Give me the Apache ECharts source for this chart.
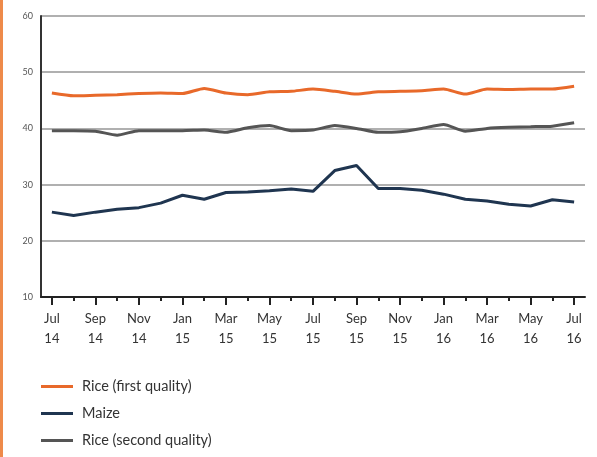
<!DOCTYPE html>
<html><head><meta charset="utf-8">
<script src="https://cdn.jsdelivr.net/npm/echarts@6/dist/echarts.min.js"></script>
<style>html,body{margin:0;padding:0;background:#fff}#c{width:597px;height:457px}</style>
</head><body><div id="c"></div>
<script>
const categories = ['Jul\n14','Aug\n14','Sep\n14','Oct\n14','Nov\n14','Dec\n14','Jan\n15','Feb\n15','Mar\n15','Apr\n15','May\n15','Jun\n15','Jul\n15','Aug\n15','Sep\n15','Oct\n15','Nov\n15','Dec\n15','Jan\n16','Feb\n16','Mar\n16','Apr\n16','May\n16','Jun\n16','Jul\n16'];
const riceFirst = [46.3,45.8,45.9,46.0,46.2,46.3,46.2,47.1,46.3,46.0,46.5,46.6,47.0,46.6,46.1,46.5,46.6,46.7,47.0,46.1,47.0,46.9,47.0,47.0,47.5];
const maize = [25.1,24.5,25.1,25.6,25.9,26.7,28.1,27.4,28.6,28.7,28.9,29.2,28.8,32.5,33.4,29.3,29.3,29.0,28.3,27.4,27.1,26.5,26.2,27.3,26.9];
const riceSecond = [39.6,39.6,39.5,38.8,39.6,39.6,39.6,39.7,39.3,40.1,40.5,39.6,39.7,40.5,40.0,39.3,39.4,40.0,40.7,39.5,40.0,40.2,40.3,40.4,41.0];
const yTicks = {min:10, max:60, interval:10};

const chart = echarts.init(document.getElementById('c'));
const font = 'Lato, "Open Sans", sans-serif';
chart.setOption({
  animation:false,
  grid:{left:41, right:12, top:16, bottom:160},
  legend:{
    orient:'vertical', left:36, top:373, itemGap:10,
    itemWidth:32, itemHeight:3, icon:'rect',
    textStyle:{fontFamily:font, fontSize:14.5, color:'#333', padding:[0,0,0,4], lineHeight:17},
    data:['Rice (first quality)','Maize','Rice (second quality)']
  },
  xAxis:[{
    type:'category', data:categories, boundaryGap:true,
    axisLine:{lineStyle:{color:'#222', width:2}},
    axisTick:{show:true, alignWithLabel:true, interval:0, length:4, lineStyle:{color:'#222', width:2}},
    axisLabel:{interval:1, fontFamily:font, fontSize:13, color:'#333', lineHeight:20, margin:12},
    splitLine:{show:false}
  },{
    type:'category', data:categories, boundaryGap:true, position:'bottom',
    axisLine:{show:false},
    axisTick:{show:true, alignWithLabel:true, interval:1, length:8, lineStyle:{color:'#222', width:2}},
    axisLabel:{show:false}, splitLine:{show:false}
  }],
  yAxis:{
    type:'value', min:yTicks.min, max:yTicks.max, interval:yTicks.interval,
    axisLine:{show:true, lineStyle:{color:'#333', width:2}},
    axisTick:{show:false},
    axisLabel:{fontFamily:font, fontSize:9, color:'#555', margin:8},
    splitLine:{lineStyle:{color:'#b0b0b0', width:2}}
  },
  series:[
    {name:'Rice (first quality)', type:'line', data:riceFirst, symbol:'none', smooth:0.2, lineStyle:{color:'#e8692a', width:3}, itemStyle:{color:'#e8692a'}},
    {name:'Maize', type:'line', data:maize, symbol:'none', lineStyle:{color:'#1f3550', width:3}, itemStyle:{color:'#1f3550'}},
    {name:'Rice (second quality)', type:'line', data:riceSecond, symbol:'none', smooth:0.2, lineStyle:{color:'#555', width:3}, itemStyle:{color:'#555'}}
  ],
  graphic:[{type:'rect', left:0, top:0, shape:{width:3, height:457}, style:{fill:'#ee8a4a'}}]
});
</script></body></html>
